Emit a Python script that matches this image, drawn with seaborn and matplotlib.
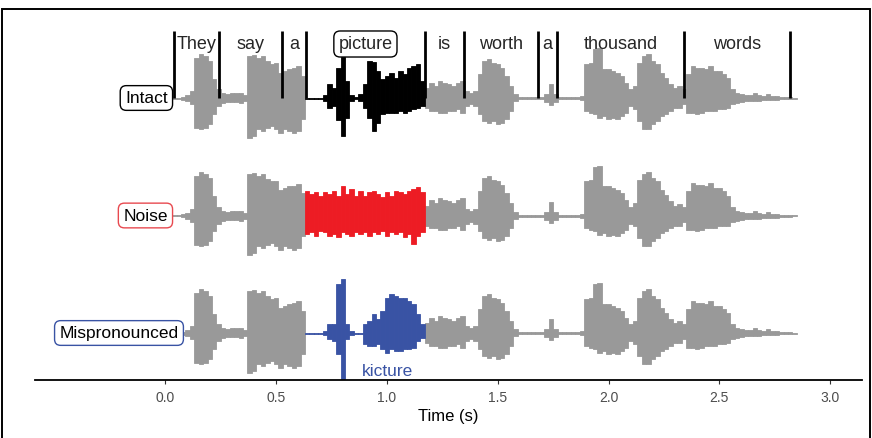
import numpy as np
import pandas as pd
import seaborn as sns
import matplotlib
matplotlib.use("Agg")
import matplotlib.pyplot as plt
from matplotlib.patches import Rectangle

# ---------------- data (amplitude envelopes) ----------------
pre_t = [0.04, 0.06, 0.08, 0.10, 0.12, 0.14, 0.16, 0.18, 0.20, 0.22, 0.24, 0.26, 0.28, 0.30,
         0.32, 0.34, 0.36, 0.38, 0.40, 0.42, 0.44, 0.46, 0.48, 0.50, 0.52, 0.54, 0.56, 0.58,
         0.60, 0.62]
pre_up = [0.5, 0.5, 1.5, 3, 7, 40, 44, 42, 37, 19, 9, 5, 4, 5, 5, 5, 3, 42, 43, 40, 42, 37,
          34, 35, 25, 27, 29, 30, 32, 22]
pre_lo = [0.5, 0.5, 1.5, 3, 6, 30, 31, 30, 26, 16, 8, 5, 4, 4, 4, 5, 3, 40, 38, 31, 33, 30,
          28, 31, 35, 31, 33, 35, 33, 21]

post_t = [round(1.18 + 0.02 * i, 2) for i in range(84)]
post_up = [10, 15, 12, 17, 15, 14, 12, 15, 17, 7, 5, 7, 24, 37, 39, 35, 34, 30, 22, 12, 4,
           1, 1, 1, 1, 1, 1, 4, 14, 4, 1, 1, 1, 1, 1, 2,
           34, 35, 49, 50, 29, 29, 27, 25, 22, 15, 9, 12, 35, 42, 44, 37, 34, 25, 20, 14, 10, 12, 9,
           24, 32, 30, 30, 29, 32, 27, 27, 24, 20, 9, 5, 4, 3, 3, 5, 3, 2, 4, 2, 2, 1, 1, 1, 0.5]
post_lo = [10, 13, 13, 15, 15, 13, 13, 11, 15, 8, 6, 8, 16, 23, 25, 23, 26, 25, 21, 13, 3,
           1, 1, 1, 1, 1, 1, 4, 7, 4, 1, 1, 1, 1, 1, 2,
           13, 15, 16, 20, 18, 21, 20, 21, 18, 15, 8, 11, 23, 31, 31, 26, 23, 18, 16, 13, 10, 10, 6,
           15, 15, 16, 15, 13, 13, 13, 11, 11, 10, 6, 5, 4, 3, 3, 3, 3, 2, 2, 2, 2, 1, 1, 1, 0.5]

seg_t = [round(0.64 + 0.02 * i, 2) for i in range(27)]
intact_up = [0.5, 0.5, 0.5, 0.5, 3, 14, 10, 30, 41, 17, 3, 1, 4, 14, 37, 36, 27, 19, 22, 25,
             20, 27, 24, 30, 32, 34, 17]
intact_lo = [0.5, 0.5, 0.5, 0.5, 3, 10, 8, 22, 38, 20, 3, 1, 3, 10, 20, 33, 25, 16, 15, 15,
             15, 13, 15, 13, 11, 10, 8]
noise_up = [24, 21, 23, 19, 23, 21, 24, 19, 29, 21, 26, 19, 24, 19, 23, 24, 21, 18, 23, 19,
            24, 23, 21, 24, 26, 28, 23]
noise_lo = [19, 17, 21, 16, 17, 21, 19, 22, 17, 19, 21, 17, 19, 17, 21, 17, 19, 16, 21, 17,
            19, 17, 22, 19, 29, 21, 17]
mis_up = [0.5, 0.5, 0.5, 0.5, 2, 9, 9, 49, 54, 9, 2, 0.5, 0.5, 9, 12, 19, 14, 22, 35, 39,
          37, 35, 35, 32, 29, 19, 9]
mis_lo = [0.5, 0.5, 0.5, 0.5, 2, 6, 8, 21, 46, 6, 2, 0.5, 0.5, 11, 13, 13, 11, 16, 20, 16,
          18, 18, 16, 16, 15, 8, 5]

conditions = ["Intact", "Noise", "Mispronounced"]
cond_colors = ["#000000", "#ED1C24", "#3953A4"]
cond_edge = ["#000000", "#E8494F", "#3953A4"]

words = ["They", "say", "a", "picture", "is", "worth", "a", "thousand", "words"]
boundaries = [0.038, 0.2415, 0.526, 0.634, 1.171, 1.348, 1.682, 1.767, 2.341, 2.820]
new_word = "kicture"

xticks = [0.0, 0.5, 1.0, 1.5, 2.0, 2.5, 3.0]

# ---------------- layout constants ----------------
ROW_STEP = 117.5
offsets = [0.0, -ROW_STEP, -2 * ROW_STEP]
label_x = [0.010, 0.010, 0.059]
GRAY = "#999999"
STEP = 0.02  # sampling step of the envelope readings

sns.set_theme(style="white")
plt.rcParams["font.family"] = ["Liberation Sans", "DejaVu Sans"]

fig = plt.figure(figsize=(8.72, 4.39), dpi=100)
ax = fig.add_axes([35 / 872, (439 - 381) / 439, (862 - 35) / 872, (381 - 12) / 439])


def draw(ax, t, up, lo, off, color):
    t = np.asarray(t, float)
    up = np.asarray(up, float)
    lo = np.asarray(lo, float)
    ax.bar(t, up + lo, bottom=off - lo, width=STEP, color=color, edgecolor=color,
           linewidth=0.6, align="center")


seg_data = [(intact_up, intact_lo), (noise_up, noise_lo), (mis_up, mis_lo)]
for i, cond in enumerate(conditions):
    off = offsets[i]
    draw(ax, pre_t, pre_up, pre_lo, off, GRAY)
    draw(ax, post_t, post_up, post_lo, off, GRAY)
    up, lo = seg_data[i]
    draw(ax, seg_t, up, lo, off, cond_colors[i])
    ax.text(label_x[i], off, cond, ha="right", va="center", fontsize=12.5, color="black",
            bbox=dict(boxstyle="round,pad=0.28,rounding_size=0.35", fc="white",
                      ec=cond_edge[i], lw=1.0), zorder=5)

# word boundaries
ax.vlines(boundaries, 0, 67, color="black", lw=2.0, zorder=4)
for k, w in enumerate(words):
    xc = (boundaries[k] + boundaries[k + 1]) / 2
    if w == "picture":
        ax.text(xc, 54, w, ha="center", va="center", fontsize=13,
                bbox=dict(boxstyle="round,pad=0.25,rounding_size=0.35", fc="white",
                          ec="black", lw=1.0), zorder=5)
    else:
        ax.text(xc, 54, w, ha="center", va="center", fontsize=13, zorder=5)

ax.text(1.0, offsets[2] - 38, new_word, ha="center", va="center", fontsize=12.5,
        color=cond_colors[2])

ax.set_xlim(-0.589, 3.144)
ax.set_ylim(-2 * ROW_STEP - 47, 87)
ax.set_xticks(xticks)
ax.set_xticklabels([f"{v:.1f}" for v in xticks], fontsize=10, color="#4D4D4D")
ax.set_yticks([])
ax.set_xlabel("Time (s)", fontsize=12, color="black", labelpad=3)
for s in ["top", "left", "right"]:
    ax.spines[s].set_visible(False)
ax.spines["bottom"].set_color("black")
ax.spines["bottom"].set_linewidth(1.3)
ax.tick_params(axis="x", bottom=True, length=3, width=0.8, color="#333333", pad=4)
ax.set_facecolor("white")

fig.patches.append(Rectangle((1.5 / 872, -0.05), 868 / 872, 1.05 - 10 / 439,
                             transform=fig.transFigure, fill=False, ec="black", lw=1.4))

fig.savefig("out.png", dpi=100)
